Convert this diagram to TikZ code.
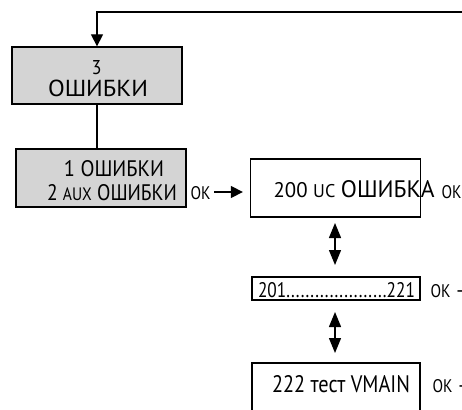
\documentclass[tikz,border=0pt]{standalone}
\usepackage{fontspec}
\setmainfont{PT Sans}
\usetikzlibrary{arrows.meta,positioning}
% condensed text fitted to width #1 and cap height #2
\newcommand\fitted[3]{\resizebox{#1}{#2}{#3}}
\newcommand\okmark{\fitted{20pt}{13pt}{OK}}

\begin{document}
\begin{tikzpicture}[x=1pt,y=-1pt,line width=1.3pt,
    font=\fontsize{21}{21}\selectfont,
    >={Triangle[length=12pt,width=12pt]},
    graybox/.style={draw,fill=black!17,inner sep=0pt},
    whitebox/.style={draw,fill=white,inner sep=0pt},
    boxtext/.style={anchor=base,inner sep=0pt},
    oktext/.style={anchor=base west,inner sep=0pt},
    swap/.style={<->,>={Triangle[length=15pt,width=12pt]}}]
    \useasboundingbox (0,0) rectangle (462,409);

    % return line from the right
    \coordinate (back-in) at (462,12);
    \node[graybox,minimum width=170pt,minimum height=57pt]
        (err-menu) at (97,75.5) {};
    \node[boxtext] (err-num) at (96.5,75) {\fitted{10pt}{14pt}{3}};
    \node[boxtext] (err-name) at (98,96.5) {\fitted{100pt}{16.5pt}{ОШИБКИ}};
    \draw[->] (back-in) -| (err-menu.north);

    \node[graybox,minimum width=170pt,minimum height=58pt]
        (err-list) at (101,178) {};
    \node[boxtext] (err-one) at (114,176.5)
        {\fitted{100pt}{16pt}{1 ОШИБКИ}};
    \node[boxtext] (err-two) at (112,200)
        {\fitted{130pt}{16pt}{2 \scalebox{0.8}{AUX} ОШИБКИ}};
    \draw (err-menu.south) -- (err-menu.south |- err-list.north);
    \node[oktext] (ok-list) at (190,199) {\okmark};

    \node[whitebox,minimum width=170pt,minimum height=58pt]
        (uc-err) at (335.5,188) {};
    \node[anchor=base west,inner sep=0pt] (uc-text) at (273,197)
        {\fitted{161pt}{17pt}{200 \scalebox{0.87}{UC}
            \scalebox{1.13}{ОШИБКА}}};
    \node[oktext] (ok-uc) at (441,198) {\okmark};
    \draw[->,shorten <=3pt,shorten >=7pt]
        (ok-list.east |- 0,192) -- (uc-err.west |- 0,192);

    \node[whitebox,minimum width=168pt,minimum height=23pt]
        (range) at (336,288.5) {};
    \node[boxtext] (range-text) at (336.5,297)
        {\fitted{157pt}{15pt}{201.....................221}};
    \node[oktext] (ok-range) at (430,297) {\okmark{} -};
    \draw[swap] (335,223) -- (335,265);

    \node[whitebox,minimum width=168pt,minimum height=70pt]
        (vmain) at (336,398) {};
    \node[boxtext] (vmain-text) at (341,392)
        {\fitted{138pt}{17pt}{222 тест VMAIN}};
    \node[oktext] (ok-vmain) at (432,392) {\okmark{} -};
    \draw[swap] (335,312) -- (335,353);
\end{tikzpicture}
\end{document}
